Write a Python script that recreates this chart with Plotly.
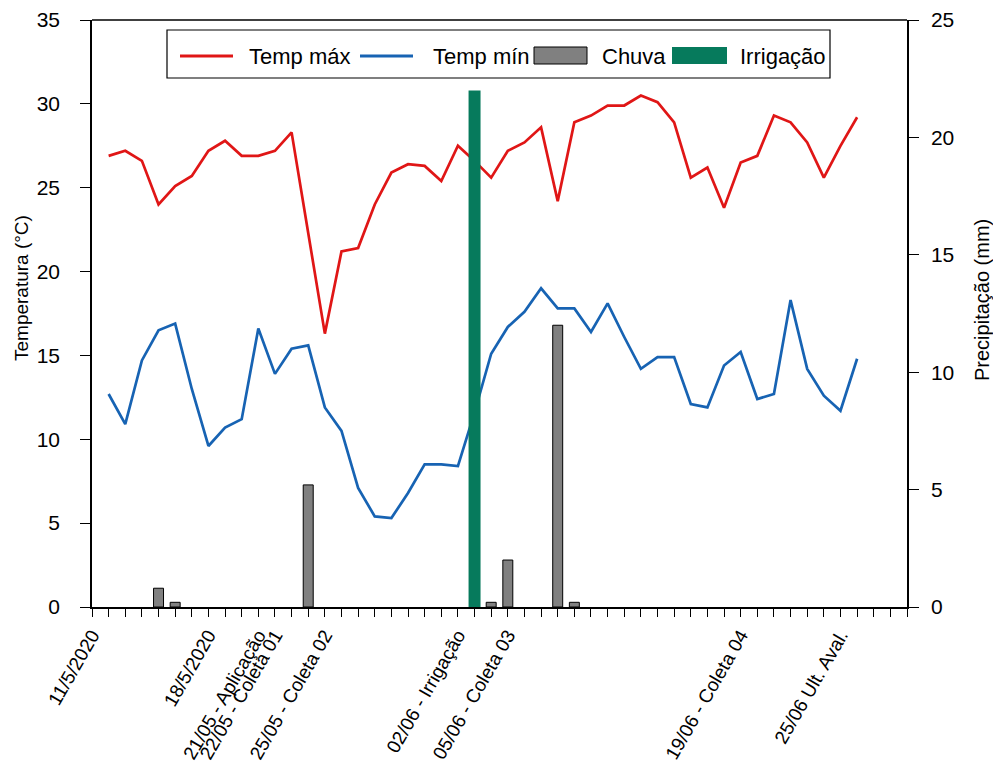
import pandas as pd
import plotly.graph_objects as go

# Daily temperatures, 12/05/2020 to 26/06/2020
temp_dates = pd.date_range("2020-05-12", periods=46, freq="D")
temp_max = [26.9, 27.2, 26.6, 24.0, 25.1, 25.7, 27.2, 27.8, 26.9, 26.9,
            27.2, 28.3, 22.3, 16.3, 21.2, 21.4, 24.0, 25.9, 26.4, 26.3,
            25.4, 27.5, 26.6, 25.6, 27.2, 27.7, 28.6, 24.2, 28.9, 29.3,
            29.9, 29.9, 30.5, 30.1, 28.9, 25.6, 26.2, 23.8, 26.5, 26.9,
            29.3, 28.9, 27.7, 25.6, 27.5, 29.2]
temp_min = [12.7, 10.9, 14.7, 16.5, 16.9, 13.0, 9.6, 10.7, 11.2, 16.6,
            13.9, 15.4, 15.6, 11.9, 10.5, 7.1, 5.4, 5.3, 6.8, 8.5,
            8.5, 8.4, 11.6, 15.1, 16.7, 17.6, 19.0, 17.8, 17.8, 16.4,
            18.1, 16.1, 14.2, 14.9, 14.9, 12.1, 11.9, 14.4, 15.2, 12.4,
            12.7, 18.3, 14.2, 12.6, 11.7, 14.8]

# Rainfall events (mm)
rain_dates = ["2020-05-15", "2020-05-16", "2020-05-24", "2020-06-04",
              "2020-06-05", "2020-06-08", "2020-06-09"]
rain_mm = [0.8, 0.2, 5.2, 0.2, 2.0, 12.0, 0.2]

# Irrigation event (mm)
irrig_dates = ["2020-06-03"]
irrig_mm = [22.0]

# Axis tick marks every day; labels only on key dates
tick_dates = pd.date_range("2020-05-11", "2020-06-29", freq="D")
tick_labels = {
    "2020-05-11": "11/5/2020",
    "2020-05-18": "18/5/2020",
    "2020-05-21": "21/05 - Aplicação",
    "2020-05-22": "22/05 - Coleta 01",
    "2020-05-25": "25/05 - Coleta 02",
    "2020-06-02": "02/06 - Irrigação",
    "2020-06-05": "05/06 - Coleta 03",
    "2020-06-19": "19/06 - Coleta 04",
    "2020-06-25": "25/06 Ult. Aval.",
}
tick_text = [tick_labels.get(d.strftime("%Y-%m-%d"), "") for d in tick_dates]

COLOR_MAX = "#e01616"
COLOR_MIN = "#1763b3"
COLOR_RAIN = "#808080"
COLOR_IRRIG = "#067a5c"

DAY_MS = 86400000
FONT = "Liberation Sans, Arial, sans-serif"

W, H = 993, 763
ML, MR, MT, MB = 92, 86, 20, 156
PW, PH = W - ML - MR, H - MT - MB


def px_x(px):
    """Pixel column -> paper x."""
    return (px - ML) / PW


def px_y(py):
    """Pixel row -> paper y."""
    return (H - MB - py) / PH


fig = go.Figure()
fig.add_trace(go.Scatter(x=temp_dates, y=temp_max, mode="lines", name="Temp máx",
                         line=dict(color=COLOR_MAX, width=2.7), yaxis="y"))
fig.add_trace(go.Scatter(x=temp_dates, y=temp_min, mode="lines", name="Temp mín",
                         line=dict(color=COLOR_MIN, width=2.7), yaxis="y"))
fig.add_trace(go.Bar(x=rain_dates, y=rain_mm, name="Chuva", yaxis="y2",
                     width=0.6 * DAY_MS,
                     marker=dict(color=COLOR_RAIN, line=dict(color="black", width=1))))
fig.add_trace(go.Bar(x=irrig_dates, y=irrig_mm, name="Irrigação", yaxis="y2",
                     width=0.72 * DAY_MS,
                     marker=dict(color=COLOR_IRRIG, line=dict(width=0))))

# Legend box drawn as shapes + text
leg_y = 56
shapes = [
    dict(type="line", xref="paper", yref="paper", x0=0, x1=1, y0=1, y1=1,
         line=dict(color="black", width=1.5)),
    dict(type="rect", xref="paper", yref="paper",
         x0=px_x(167), x1=px_x(830), y0=px_y(30), y1=px_y(78),
         line=dict(color="black", width=1.2), fillcolor="white", layer="above"),
    dict(type="line", xref="paper", yref="paper",
         x0=px_x(180), x1=px_x(233), y0=px_y(leg_y), y1=px_y(leg_y),
         line=dict(color=COLOR_MAX, width=3), layer="above"),
    dict(type="line", xref="paper", yref="paper",
         x0=px_x(360), x1=px_x(413), y0=px_y(leg_y), y1=px_y(leg_y),
         line=dict(color=COLOR_MIN, width=3), layer="above"),
    dict(type="rect", xref="paper", yref="paper",
         x0=px_x(534), x1=px_x(587), y0=px_y(47), y1=px_y(64),
         line=dict(color="black", width=1), fillcolor=COLOR_RAIN, layer="above"),
    dict(type="rect", xref="paper", yref="paper",
         x0=px_x(672), x1=px_x(727), y0=px_y(47), y1=px_y(64),
         line=dict(width=0), fillcolor=COLOR_IRRIG, layer="above"),
]

legend_items = [(247, "Temp máx"), (431, "Temp mín"), (600, "Chuva"), (738, "Irrigação")]
annotations = [
    dict(text=t, x=px_x(x0), y=px_y(leg_y), xref="paper", yref="paper",
         xanchor="left", yanchor="middle", showarrow=False,
         font=dict(size=22, color="black"))
    for x0, t in legend_items
]
annotations += [
    dict(text="Temperatura (°C)", x=px_x(21), y=px_y(288), xref="paper", yref="paper",
         textangle=-90, showarrow=False, xanchor="center", yanchor="middle",
         font=dict(size=19, color="black")),
    dict(text="Precipitação (mm)", x=px_x(982), y=px_y(300), xref="paper", yref="paper",
         textangle=-90, showarrow=False, xanchor="center", yanchor="middle",
         font=dict(size=20, color="black")),
]

fig.update_layout(
    width=W, height=H,
    margin=dict(l=ML, r=MR, t=MT, b=MB),
    paper_bgcolor="white", plot_bgcolor="white",
    font=dict(family=FONT, color="black", size=19),
    barmode="overlay",
    showlegend=False,
    xaxis=dict(
        type="date", automargin=False,
        range=["2020-05-11", "2020-06-29"],
        tickmode="array", tickvals=tick_dates, ticktext=tick_text,
        tickangle=-60, ticks="outside", ticklen=8, tickcolor="black",
        showline=True, linecolor="black", linewidth=1.5,
        showgrid=False, zeroline=False,
        tickfont=dict(size=19),
    ),
    yaxis=dict(
        range=[0, 35], dtick=5, ticks="outside", ticklen=10, tickcolor="black",
        showline=True, linecolor="black", linewidth=1.5, automargin=False,
        showgrid=False, zeroline=False, ticklabelstandoff=16,
        tickfont=dict(size=21),
    ),
    yaxis2=dict(
        range=[0, 25], dtick=5, overlaying="y", side="right",
        ticks="outside", ticklen=10, tickcolor="black", automargin=False,
        showline=True, linecolor="black", linewidth=1.5,
        showgrid=False, zeroline=False, ticklabelstandoff=8,
        tickfont=dict(size=21),
    ),
    shapes=shapes,
    annotations=annotations,
)

fig.write_html("out.html")
